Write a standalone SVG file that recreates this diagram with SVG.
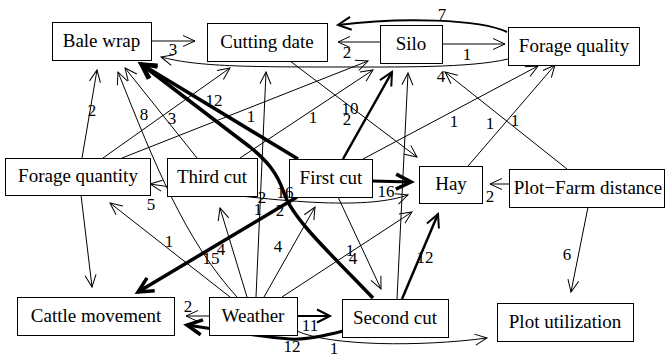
<svg xmlns="http://www.w3.org/2000/svg" width="666" height="357" viewBox="0 0 666 357">
<style>
.n rect{fill:#fff;stroke:#000;stroke-width:1}
.n text{font-size:19px;text-anchor:middle;fill:#000}
.e path{fill:none;stroke:#000}
.th{stroke-width:1;marker-end:url(#a1)}
.md{stroke-width:2;marker-end:url(#a2)}
.tk{stroke-width:3.5;marker-end:url(#a3)}
.lb text{font-size:17px;text-anchor:middle;fill:#000}
</style>
<defs>
<marker id="a1" markerUnits="userSpaceOnUse" orient="auto-start-reverse" overflow="visible" markerWidth="1" markerHeight="1"><path d="M-12,-5.5 L0,0 L-12,5.5" fill="none" stroke="#000" stroke-width="1"/></marker>
<marker id="a2" markerUnits="userSpaceOnUse" orient="auto" overflow="visible" markerWidth="1" markerHeight="1"><path d="M-13,-6.5 L0,0 L-13,6.5" fill="none" stroke="#000" stroke-width="2"/></marker>
<marker id="a3" markerUnits="userSpaceOnUse" orient="auto" overflow="visible" markerWidth="1" markerHeight="1"><path d="M-15,-7.5 L0,0 L-15,7.5" fill="none" stroke="#000" stroke-width="3.5"/></marker>
</defs>
<g id="edges" class="e">
<path class="th" d="M151,41 L195,41"/>
<path class="th" d="M380,42 L338,42"/>
<path class="th" d="M442,44 L505,44"/>
<path class="th" d="M508,59 C470,68 400,67 330,67 C240,67 195,66 161,57"/>
<path class="th" d="M82,158 L97,70"/>
<path class="th" d="M81,195 L92,287"/>
<path class="th" d="M237,297 C185,240 155,165 118,72"/>
<path class="th" d="M197,158 L125,68"/>
<path class="th" d="M103,158 L230,68"/>
<path class="th" d="M122,158 L368,61"/>
<path class="th" d="M240,158 L373,70"/>
<path class="th" d="M256,297 L266,72"/>
<path class="th" d="M290,61 L417,157"/>
<path class="th" d="M363,159 L538,66"/>
<path class="th" d="M468,166 L555,65"/>
<path class="th" d="M567,169 L445,72"/>
<path class="th" d="M509,184 L490,184"/>
<path class="th" d="M588,207 L571,292"/>
<path class="th" d="M397,299 L408,73"/>
<path class="th" d="M338,197 L381,289"/>
<path class="th" d="M230,297 L110,203"/>
<path class="th" d="M247,297 L220,208"/>
<path class="th" d="M264,297 L315,207"/>
<path class="th" d="M282,297 L412,212"/>
<path class="th" d="M209,316 L186,316"/>
<path class="th" d="M297,331 C330,346 420,347 487,338"/>
<path class="th" style="marker-start:url(#a1)" d="M408,195 C370,208 300,206 150,184"/>
<path class="md" d="M507,32 C480,19 400,17 338,25"/>
<path class="md" style="stroke-width:2.5" d="M343,159 L392,72"/>
<path class="md" style="stroke-width:2.5" d="M402,299 L438,214"/>
<path class="md" d="M297,316 L330,316"/>
<path class="tk" d="M298,159 L141,64"/>
<path class="tk" d="M373,298 C335,258 293,220 284,193 C277,172 266,160 250,147 L141,64"/>
<path class="tk" d="M297,197 L138,292"/>
<path class="tk" style="stroke-width:3" d="M343,331 C320,337 305,340 290,339 C255,336 225,331 187,325"/>
<path class="tk" style="stroke-width:3" d="M372,181 L411,182"/>
</g>
<g font-family="Liberation Serif, serif">
<g id="bale-wrap" class="n"><rect x="52.5" y="22.5" width="99" height="38"/><text x="101.5" y="47">Bale wrap</text></g>
<g id="cutting-date" class="n"><rect x="207.5" y="23.5" width="120" height="38"/><text x="267" y="48">Cutting date</text></g>
<g id="silo" class="n"><rect x="380.5" y="25.5" width="62" height="38"/><text x="411" y="50">Silo</text></g>
<g id="forage-quality" class="n"><rect x="508.5" y="27.5" width="131" height="38"/><text x="574" y="52">Forage quality</text></g>
<g id="forage-quantity" class="n"><rect x="5.5" y="158.5" width="145" height="37"/><text x="78" y="182">Forage quantity</text></g>
<g id="third-cut" class="n"><rect x="167.5" y="158.5" width="90" height="38"/><text x="212" y="183">Third cut</text></g>
<g id="first-cut" class="n"><rect x="289.5" y="159.5" width="83" height="38"/><text x="331" y="184">First cut</text></g>
<g id="hay" class="n"><rect x="419.5" y="166.5" width="63" height="37"/><text x="451" y="190">Hay</text></g>
<g id="plot-farm-distance" class="n"><rect x="509.5" y="169.5" width="155" height="38"/><text x="588" y="194">Plot−Farm distance</text></g>
<g id="cattle-movement" class="n"><rect x="17.5" y="297.5" width="157" height="38"/><text x="96" y="322">Cattle movement</text></g>
<g id="weather" class="n"><rect x="209.5" y="297.5" width="88" height="38"/><text x="253" y="322">Weather</text></g>
<g id="second-cut" class="n"><rect x="342.5" y="299.5" width="106" height="38"/><text x="395" y="324">Second cut</text></g>
<g id="plot-utilization" class="n"><rect x="497.5" y="303.5" width="136" height="38"/><text x="565" y="328">Plot utilization</text></g>
<g id="labels" class="lb">
<text x="173" y="55">3</text>
<text x="347" y="58">2</text>
<text x="442" y="20">7</text>
<text x="467" y="60">1</text>
<text x="441" y="82">4</text>
<text x="92" y="116">2</text>
<text x="144" y="120">8</text>
<text x="172" y="124">3</text>
<text x="214" y="106">12</text>
<text x="251" y="122">1</text>
<text x="313" y="123">1</text>
<text x="350" y="114">10</text>
<text x="347" y="125">2</text>
<text x="454" y="127">1</text>
<text x="490" y="129">1</text>
<text x="515" y="126">1</text>
<text x="151" y="210">5</text>
<text x="262" y="203">2</text>
<text x="258" y="215">1</text>
<text x="285" y="198">16</text>
<text x="280" y="216">2</text>
<text x="386" y="197">16</text>
<text x="490" y="202">2</text>
<text x="169" y="247">1</text>
<text x="221" y="255">4</text>
<text x="211" y="264">15</text>
<text x="278" y="252">4</text>
<text x="350" y="256">1</text>
<text x="353" y="264">4</text>
<text x="425" y="263">12</text>
<text x="567" y="260">6</text>
<text x="188" y="312">2</text>
<text x="310" y="331">11</text>
<text x="292" y="352">12</text>
<text x="334" y="354">1</text>
</g>
</g>
</svg>
